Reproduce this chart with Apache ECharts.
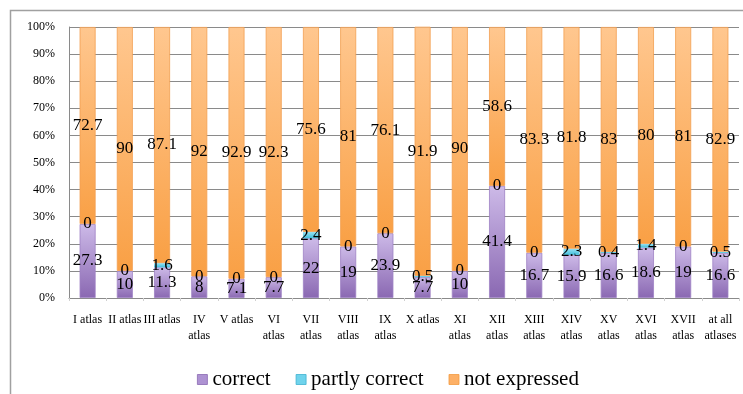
<!DOCTYPE html>
<html><head><meta charset="utf-8">
<script src="https://cdn.jsdelivr.net/npm/echarts@6/dist/echarts.min.js"></script>
<style>html,body{margin:0;padding:0;background:#fff}#c{width:743px;height:394px}</style>
</head><body><div id="c"></div>
<script>
const categories = ["I atlas","II atlas","III atlas","IV\natlas","V atlas","VI\natlas","VII\natlas","VIII\natlas","IX\natlas","X atlas","XI\natlas","XII\natlas","XIII\natlas","XIV\natlas","XV\natlas","XVI\natlas","XVII\natlas","at all\natlases"];
const correct = [27.3,10,11.3,8,7.1,7.7,22,19,23.9,7.7,10,41.4,16.7,15.9,16.6,18.6,19,16.6];
const partly = [0,0,1.6,0,0,0,2.4,0,0,0.5,0,0,0,2.3,0.4,1.4,0,0.5];
const notExpressed = [72.7,90,87.1,92,92.9,92.3,75.6,81,76.1,91.9,90,58.6,83.3,81.8,83,80,81,82.9];
const yTicks = [0,10,20,30,40,50,60,70,80,90,100];

const serif = "'Liberation Serif','DejaVu Serif',serif";
function grad(top, bottom){
  return new echarts.graphic.LinearGradient(0,0,0,1,[{offset:0,color:top},{offset:1,color:bottom}]);
}
const lbl = {show:true, position:'inside', color:'#000', fontFamily:serif, fontSize:17};
const chart = echarts.init(document.getElementById('c'), null, {renderer:'canvas'});
chart.setOption({
  animation:false,
  graphic:[{type:'rect', shape:{x:10.5,y:10.5,width:900,height:500}, style:{fill:'none',stroke:'#a0a0a0',lineWidth:1.5}, silent:true}],
  grid:{left:69, right:4, top:27, bottom:96},
  legend:{
    top:364, left:192, icon:'rect', itemWidth:10, itemHeight:10, itemGap:25,
    textStyle:{fontFamily:serif, fontSize:21, color:'#000'},
    data:[{name:'correct', itemStyle:{color:'#ad92d2', borderColor:'#8a68b2', borderWidth:0.8}},
          {name:'partly correct', itemStyle:{color:'#6fd3ec', borderColor:'#3fb3d0', borderWidth:0.8}},
          {name:'not expressed', itemStyle:{color:'#fdb066', borderColor:'#f39a40', borderWidth:0.8}}]
  },
  xAxis:{
    type:'category', data:categories,
    axisLine:{show:true, lineStyle:{color:'#8a8a8a'}},
    axisTick:{show:true, length:3, lineStyle:{color:'#d0d0d0'}},
    axisLabel:{interval:0, margin:14, fontFamily:serif, fontSize:12, color:'#000', lineHeight:16}
  },
  yAxis:{
    type:'value', min:0, max:100, interval:10,
    axisLine:{show:true, lineStyle:{color:'#8a8a8a'}},
    axisTick:{show:false},
    splitLine:{lineStyle:{color:'#8a8a8a'}},
    axisLabel:{margin:14, fontFamily:serif, fontSize:12, color:'#000', formatter:v=>v+'%'}
  },
  series:[
    {name:'correct', type:'bar', stack:'s', barWidth:16, data:correct, label:lbl,
     itemStyle:{color:grad('#cdbae8','#8a68b2'), borderColor:'#9e82c4', borderWidth:0.8}},
    {name:'partly correct', type:'bar', stack:'s', barWidth:16, data:partly, label:lbl,
     itemStyle:{color:grad('#9ae2f3','#3fbedc')}},
    {name:'not expressed', type:'bar', stack:'s', barWidth:16, data:notExpressed, label:lbl,
     itemStyle:{color:grad('#ffc78f','#f9a045'), borderColor:'#f3a052', borderWidth:0.8}}
  ]
});
</script></body></html>
